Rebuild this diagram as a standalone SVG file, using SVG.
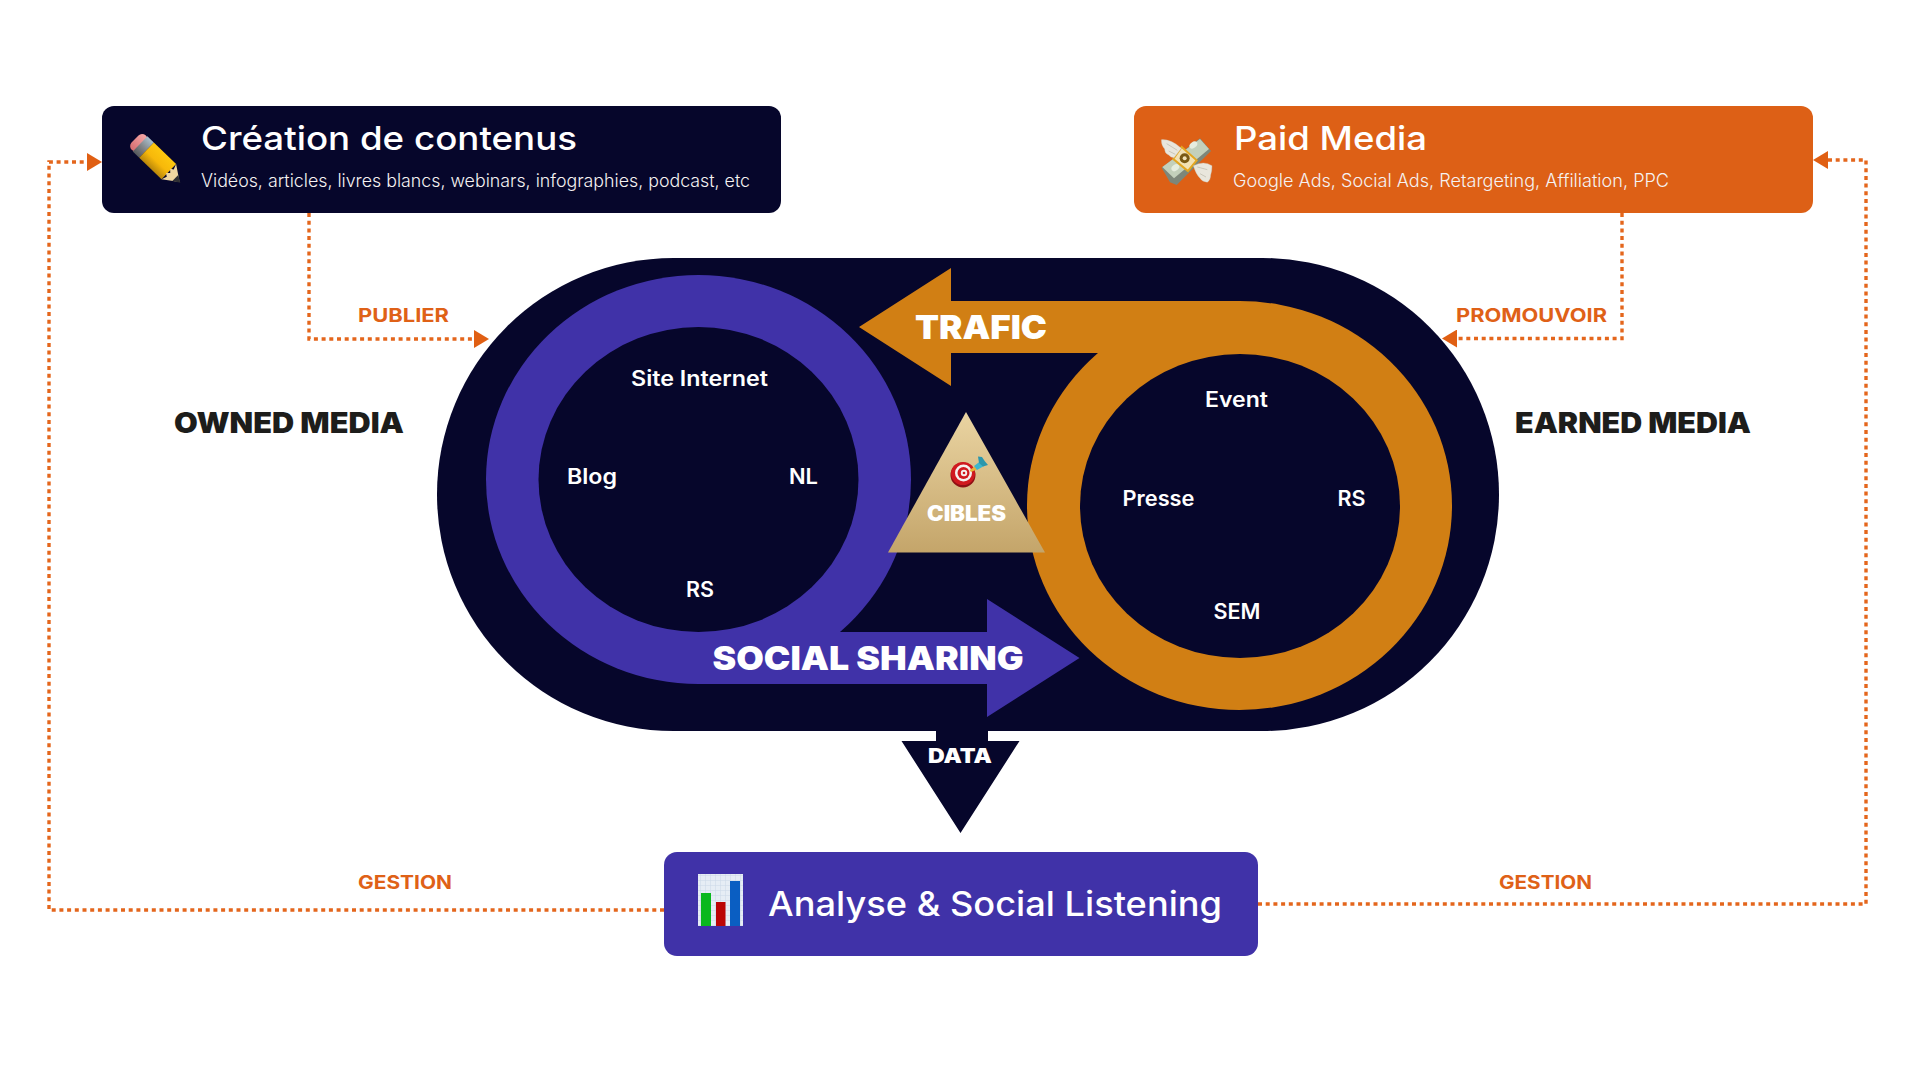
<svg xmlns="http://www.w3.org/2000/svg" width="1920" height="1080" viewBox="0 0 1920 1080">
<style>
text{font-family:Inter,"Noto Sans","Liberation Sans",sans-serif;fill:#fff}
.title{font-size:33px;font-weight:500}
.sub{font-size:18px;font-weight:300;fill:#f5f2f2}
.heavy{font-size:33px;font-weight:900}
.item{font-size:21px;font-weight:600}
.side{font-size:28px;font-weight:900;fill:#1d1d1b}
.tag{font-size:19px;font-weight:700;fill:#df6117}
.link{fill:none;stroke:#e4661c;stroke-width:3.400;stroke-dasharray:4 3.700}
.navy{fill:#06062b}.violet{fill:#4032a8}.amber{fill:#d17f14}
.wing{fill:#e9e6dc;stroke:#c4c1b2;stroke-width:1}
</style>
<defs>
<marker id="head" markerUnits="userSpaceOnUse" markerWidth="15" markerHeight="18" refX="1" refY="9" orient="auto"><path d="M0 0L15 9L0 18Z" fill="#e05f13"/></marker>
<linearGradient id="gold" x1="0" y1="0" x2="0" y2="1"><stop offset="0" stop-color="#ead4a2"/><stop offset="1" stop-color="#c4a56a"/></linearGradient>
<linearGradient id="pencilBody" x1="0" y1="0" x2="0" y2="1"><stop offset="0" stop-color="#fdc70f"/><stop offset=".55" stop-color="#f7b80a"/><stop offset="1" stop-color="#b8860b"/></linearGradient>
<linearGradient id="eraser" x1="0" y1="0" x2="0" y2="1"><stop offset="0" stop-color="#f5a7a6"/><stop offset="1" stop-color="#d66d70"/></linearGradient>
<linearGradient id="ferrule" x1="0" y1="0" x2="0" y2="1"><stop offset="0" stop-color="#a9c0cf"/><stop offset=".5" stop-color="#85888b"/><stop offset="1" stop-color="#55585b"/></linearGradient>
<pattern id="grid" width="5" height="5" patternUnits="userSpaceOnUse"><path d="M5 0H0V5" fill="none" stroke="#c9d8e8" stroke-width="1"/></pattern>
</defs>

<g id="hub">
<rect class="navy" x="437" y="258" width="1062" height="473" rx="236.500"/>
<path id="data-arrow" class="navy" d="M936 731H988V741H1019.500L960.500 833L901.500 741H936Z"/>
<text class="heavy" style="font-size:20px" x="928" y="763" textLength="64" lengthAdjust="spacingAndGlyphs">DATA</text>
</g>

<g id="owned-loop">
<ellipse class="violet" cx="698.500" cy="479.500" rx="212.500" ry="204.500"/>
<ellipse class="navy" cx="698.500" cy="479.500" rx="160" ry="152.500"/>
<path class="violet" d="M698 632H987V599L1079.500 658L987 717V684H698Z"/>
<text class="heavy" x="712.500" y="670" textLength="311" lengthAdjust="spacingAndGlyphs">SOCIAL SHARING</text>
<text class="item" x="631" y="386" textLength="137" lengthAdjust="spacingAndGlyphs">Site Internet</text>
<text class="item" x="567" y="484" textLength="50" lengthAdjust="spacingAndGlyphs">Blog</text>
<text class="item" x="789" y="484" textLength="29" lengthAdjust="spacingAndGlyphs">NL</text>
<text class="item" x="686" y="597" textLength="28" lengthAdjust="spacingAndGlyphs">RS</text>
</g>

<g id="earned-loop">
<ellipse class="amber" cx="1239.500" cy="505.500" rx="212.500" ry="204.500"/>
<ellipse class="navy" cx="1240" cy="506" rx="160" ry="152"/>
<path class="amber" d="M1240 301H951V268L859 327L951 386V353H1240Z"/>
<text class="heavy" x="915" y="339" textLength="132" lengthAdjust="spacingAndGlyphs">TRAFIC</text>
<text class="item" x="1205" y="407" textLength="63" lengthAdjust="spacingAndGlyphs">Event</text>
<text class="item" x="1122.500" y="506" textLength="72" lengthAdjust="spacingAndGlyphs">Presse</text>
<text class="item" x="1337.500" y="506" textLength="28" lengthAdjust="spacingAndGlyphs">RS</text>
<text class="item" x="1213.500" y="619" textLength="47" lengthAdjust="spacingAndGlyphs">SEM</text>
</g>

<g id="targets">
<path d="M966 412L1045 552.500H888Z" fill="url(#gold)"/>
<!-- dart board -->
<ellipse cx="963" cy="475" rx="12.500" ry="12.500" fill="#8f1014"/>
<ellipse cx="963" cy="473.500" rx="12" ry="11.500" fill="#d0191f"/>
<circle cx="963.500" cy="473" r="8.500" fill="#f5f0ee"/>
<circle cx="963.500" cy="473" r="6" fill="#d0191f"/>
<circle cx="964" cy="473" r="3.200" fill="#f5f0ee"/>
<circle cx="964" cy="473" r="1.300" fill="#d0191f"/>
<path d="M969.500 470L975 466.500L977 469.500L971 472Z" fill="#e8b13a"/>
<path d="M974 466L980 461.500L984 466L977 470Z" fill="#3cb6cc"/>
<path d="M979 463L978 456.500L982 457L985 461.500L988 465L983 466.500Z" fill="#2a97ad"/>
<text class="heavy" style="font-size:21px" x="927" y="521" textLength="79" lengthAdjust="spacingAndGlyphs">CIBLES</text>
</g>

<g id="creation">
<rect class="navy" x="102" y="106" width="679" height="107" rx="12"/>
<g transform="translate(135 139) rotate(44)">
<rect x="0" y="-10" width="11" height="20" rx="5" fill="url(#eraser)"/>
<rect x="7" y="-10.500" width="9" height="21" fill="url(#ferrule)"/>
<rect x="16" y="-10.500" width="31" height="21" fill="url(#pencilBody)"/>
<path d="M47 -10.500L62 0L47 10.500L49 5L46 3L49 0L46 -3L49 -5Z" fill="#f0d6a0"/>
<path d="M56 -4.200L63 0L56 4.200Z" fill="#2f2f33"/>
</g>
<text class="title" x="201" y="150" textLength="376" lengthAdjust="spacingAndGlyphs">Création de contenus</text>
<text class="sub" x="201" y="187" textLength="549" lengthAdjust="spacingAndGlyphs">Vidéos, articles, livres blancs, webinars, infographies, podcast, etc</text>
</g>

<g id="paid-media">
<rect x="1134" y="106" width="679" height="107" rx="12" fill="#dd6016"/>
<!-- flying banknotes, drawn on a 225 unit grid -->
<g transform="translate(1150 125) scale(.3333)">
<path d="M35 128L150 40L183 78L80 180L60 172Z" fill="#7d877a"/>
<path d="M37 126L150 42L177 72L72 160Z" fill="#c3d0bb"/>
<ellipse cx="130" cy="60" rx="13" ry="9" fill="#e6eddf" transform="rotate(-38 130 60)"/>
<ellipse cx="76" cy="128" rx="13" ry="9" fill="#e6eddf" transform="rotate(-38 76 128)"/>
<path d="M70 102L95 66L140 106L114 138Z" fill="#f2e2b4" stroke="#e3a721" stroke-width="6"/>
<circle cx="104" cy="100" r="15" fill="#7a5a14"/>
<circle cx="104" cy="100" r="6" fill="#f2e2b4"/>
<path class="wing" d="M94 70Q64 42 34 44Q34 62 44 72Q44 86 56 90Q62 98 72 98Z"/>
<path d="M50 56L82 76M56 78L76 88" stroke="#b9b6a8" stroke-width="2" fill="none"/>
<path class="wing" d="M130 122Q162 106 186 122Q186 140 182 150Q182 166 172 172Q156 170 150 160Q138 148 130 122Z"/>
<path d="M142 126L172 134M150 146L168 156" stroke="#b9b6a8" stroke-width="2" fill="none"/>
</g>
<text class="title" x="1234" y="150" textLength="193" lengthAdjust="spacingAndGlyphs">Paid Media</text>
<text class="sub" x="1233" y="187" textLength="436" lengthAdjust="spacingAndGlyphs">Google Ads, Social Ads, Retargeting, Affiliation, PPC</text>
</g>

<g id="analyse">
<rect class="violet" x="664" y="852" width="594" height="104" rx="13"/>
<rect x="698" y="874" width="45" height="52" fill="#e6edf5"/>
<rect x="698" y="874" width="45" height="52" fill="url(#grid)"/>
<rect x="701" y="893" width="10" height="33" fill="#0ab81e"/>
<rect x="716" y="902" width="9.500" height="24" fill="#bb0505"/>
<rect x="730" y="881" width="10" height="45" fill="#0a5ec2"/>
<text class="title" style="font-size:34px" x="768" y="916" textLength="454" lengthAdjust="spacingAndGlyphs">Analyse &amp; Social Listening</text>
</g>

<g id="labels">
<text class="side" x="174" y="433" textLength="230" lengthAdjust="spacingAndGlyphs">OWNED MEDIA</text>
<text class="side" x="1515" y="433" textLength="236" lengthAdjust="spacingAndGlyphs">EARNED MEDIA</text>
</g>

<g id="connectors">
<path class="link" d="M309 213V339H475" marker-end="url(#head)"/>
<path class="link" d="M1622 213V338.500H1456" marker-end="url(#head)"/>
<path class="link" d="M664 910H49V162H88" marker-end="url(#head)"/>
<path class="link" d="M1258 904H1866V160H1827" marker-end="url(#head)"/>
<text class="tag" x="358" y="322" textLength="91" lengthAdjust="spacingAndGlyphs">PUBLIER</text>
<text class="tag" x="1456" y="322" textLength="151" lengthAdjust="spacingAndGlyphs">PROMOUVOIR</text>
<text class="tag" x="358" y="889" textLength="94" lengthAdjust="spacingAndGlyphs">GESTION</text>
<text class="tag" x="1499" y="889" textLength="93" lengthAdjust="spacingAndGlyphs">GESTION</text>
</g>
</svg>
